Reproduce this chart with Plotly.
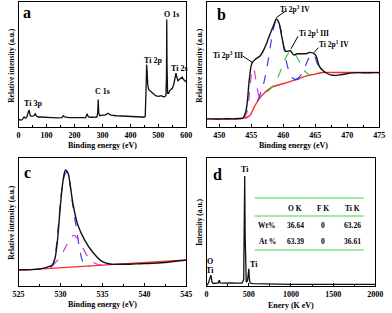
import plotly.graph_objects as go

# ---------------- Panel a : XPS survey ----------------
survey_x = [0, 5, 10, 15, 20, 25, 30, 35, 38, 42, 48, 55, 60, 63, 70, 80, 100, 120, 140, 155, 160, 165,
            180, 200, 220, 240, 245, 250, 260, 270, 280, 283, 285, 287, 290, 300, 310, 320, 330, 350, 380,
            410, 440, 450, 453, 456, 458, 460, 462, 465, 470, 480, 490, 500, 510, 520, 527, 529, 530, 531,
            533, 537, 540, 545, 550, 555, 560, 563, 566, 570, 575, 580, 585, 590, 595, 600]
survey_y = [6, 6, 5.5, 6.5, 8, 7, 8, 12, 13.5, 9, 8.5, 9, 10.5, 9, 8, 8, 7.5, 7.5, 7.3, 7.5, 9, 8,
            7.5, 7.3, 7.2, 7.5, 10.5, 8, 7.8, 7.8, 8, 11, 22, 11, 9, 9.5, 9.5, 11, 9.5, 9, 8.5,
            8.2, 8, 8, 8.5, 30, 50, 44, 34, 30, 29, 27, 25, 24.5, 25, 24, 25, 40, 86, 50,
            27, 27, 29, 30, 31, 34, 40, 43, 40, 37, 38, 39, 40, 38, 37, 36]
survey_labels = ["Ti 3p", "C 1s", "Ti 2p", "O 1s", "Ti 2s"]
survey_lab_x = [50, 300, 480, 547, 574]
survey_lab_y = [19, 28, 53, 90, 47]

# ---------------- Panel b : Ti 2p ----------------
ti_x = [448, 449, 450, 451, 452, 453, 453.7, 454.2, 454.7, 455.1, 455.7, 456.4, 457.2, 457.9, 458.6,
        458.9, 459.3, 459.8, 460.4, 461.1, 461.6, 462.2, 463.0, 463.7, 464.2, 465.0, 465.7, 466.5,
        467.7, 469.2, 470.7, 472, 473, 474, 475]
ti_y = [6.5, 6.5, 6.4, 6.6, 6.5, 6.8, 7.4, 14, 38.7, 51, 54.5, 57, 64.6, 74, 82.8,
        86.4, 83.6, 71.4, 60.5, 61, 57.8, 58.6, 58.6, 58.8, 59.7, 57.8, 48, 44,
        41.4, 42, 43.3, 43.5, 43.4, 43.5, 43.5]
bg_b_x = [448, 453, 453.7, 454.2, 454.9, 455.4, 456.2, 457, 458.2, 459.5, 461.2, 462.5, 463.7, 465, 466.2, 468, 475]
bg_b_y = [6.5, 6.5, 7, 7.4, 10, 15.5, 22.3, 27, 31.9, 34, 36.5, 39, 40.9, 42.3, 43.6, 43.6, 43.6]
p1_x = [453.8, 454.2, 454.5, 454.8, 455.0, 455.2, 455.4, 455.7, 456.0, 456.3, 456.6, 457.0]
p1_y = [7.2, 10, 17, 32, 42, 47, 46, 38, 29, 24, 24.5, 26]
p2_x = [456.0, 456.5, 457.0, 457.5, 458.0, 458.5, 459.0, 459.5, 460.0, 460.5, 461.0, 461.5, 462.0, 462.5]
p2_y = [21, 27.6, 36.3, 49.3, 65.2, 79.5, 86, 80, 66, 52, 43, 39, 38, 38.3]
p3_x = [457.5, 458.0, 458.5, 459.0, 459.5, 460.0, 460.5, 461.0, 461.3, 461.7, 462.0, 462.5, 463.0, 463.5, 464.0, 464.5, 465.0]
p3_y = [28.2, 30.5, 33.5, 38, 44, 50.5, 56.5, 60, 61, 59.5, 57, 52.5, 47.5, 44, 42, 41.5, 41.8]
p4_x = [461.8, 462.3, 462.8, 463.3, 463.8, 464.2, 464.5, 464.9, 465.3, 465.7, 466.1, 466.6]
p4_y = [37.5, 39, 42, 47, 53, 57, 58.3, 56.5, 51, 46.5, 44, 43.5]
ti_labels = ["Ti 2p<sup>3</sup> III", "Ti 2p<sup>3</sup> IV", "Ti 2p<sup>1</sup> III", "Ti 2p<sup>1</sup> IV"]
ti_lab_x = [451.3, 461.8, 464.8, 468.0]
ti_lab_y = [57.8, 94.5, 75.5, 66]

# ---------------- Panel c : O 1s ----------------
o_x = [525, 526, 527, 527.5, 528, 528.5, 529, 529.3, 529.6, 530.0, 530.3, 530.6, 530.9, 531.1, 531.5,
       532.1, 532.9, 533.8, 535, 536.1, 537, 538, 539, 540, 541, 542, 543, 544, 545]
o_y = [12.8, 12.7, 13, 13.3, 14, 15, 16.3, 20.4, 33, 63.8, 82, 90.6, 88, 81.6, 63.8,
       47, 35.7, 26.8, 19, 17, 17, 17, 17.3, 17.5, 17.8, 18.2, 18.8, 19.5, 20.2]
bg_c_x = [525, 545]
bg_c_y = [12.2, 20.4]
oa_x = [528.8, 529.1, 529.4, 529.8, 530.1, 530.4, 530.7, 531.0, 531.3, 531.6, 532.0, 532.3, 532.6, 533.0, 533.5]
oa_y = [14.5, 16.6, 25.5, 51, 72, 85, 89, 84, 71, 57, 41, 28, 20, 15.6, 15.5]
ob_x = [529.0, 529.5, 530.0, 530.5, 531.0, 531.3, 531.6, 531.9, 532.3, 532.8, 533.3, 533.8, 534.3, 535.0]
ob_y = [15.5, 19, 23, 29, 35.5, 38.5, 39.5, 38, 34, 28, 22.5, 19, 17.2, 16.3]

# ---------------- Panel d : EDS ----------------
eds_x = [0, 20, 35, 45, 52, 58, 65, 80, 100, 140, 150, 160, 200, 270, 280, 290, 350, 420, 440, 447,
         452, 457, 462, 470, 485, 495, 501, 507, 515, 550, 700, 1000, 1500, 2000]
eds_y = [0.5, 2, 5, 8, 8.5, 6, 3, 2, 2, 2.5, 4.5, 2.5, 2.2, 2.5, 3, 2.5, 2.3, 2.3, 5, 40,
         86, 40, 5, 3, 4, 11, 13.4, 6, 2.3, 1.8, 1.5, 1.3, 1.2, 1.2]
eds_labels = ["Ti", "Ti", "O", "Ti"]
eds_lab_x = [459, 560, 45, 45]
eds_lab_y = [91, 17, 19, 12]
table_cols = ["", "O K", "F K", "Ti K"]
table_rows = [["Wt%", "36.64", "0", "63.26"], ["At %", "63.39", "0", "36.61"]]

# ---------------- Figure ----------------
W, H = 392, 313
def px(v):
    return v / W
def py(v):
    return 1 - v / H

FONT = "Liberation Serif"
BLACK = "#111111"
RED = "#ff2a2a"
BLUE = "#3b3bff"
PINK = "#d040d0"
GREEN = "#2ecc2e"

fig = go.Figure()

def line(x, y, color, xa, ya, dash=None, width=1.4, shape="linear"):
    fig.add_trace(go.Scatter(x=x, y=y, mode="lines", xaxis=xa, yaxis=ya,
                             line=dict(color=color, width=width, dash=dash, shape=shape),
                             showlegend=False, hoverinfo="skip"))

# a
line(survey_x, survey_y, BLACK, "x", "y", width=1.3)
# b
line(bg_b_x, bg_b_y, RED, "x2", "y2", width=1.4, shape="spline")
line(p1_x, p1_y, PINK, "x2", "y2", dash="dash", width=1.2, shape="spline")
line(p2_x, p2_y, BLUE, "x2", "y2", dash="dash", width=1.2, shape="spline")
line(p3_x, p3_y, GREEN, "x2", "y2", dash="dash", width=1.2, shape="spline")
line(p4_x, p4_y, BLUE, "x2", "y2", dash="dash", width=1.2, shape="spline")
line(ti_x, ti_y, BLACK, "x2", "y2", width=1.4, shape="spline")
# c
line(bg_c_x, bg_c_y, RED, "x3", "y3", width=1.4)
line(oa_x, oa_y, BLUE, "x3", "y3", dash="dash", width=1.2, shape="spline")
line(ob_x, ob_y, PINK, "x3", "y3", dash="dash", width=1.2, shape="spline")
line(o_x, o_y, BLACK, "x3", "y3", width=1.4, shape="spline")
# d
line(eds_x, eds_y, BLACK, "x4", "y4", width=1.3)

tickfont = dict(family=FONT, size=8, color="black", weight="bold")

def xaxis_cfg(dom, yanchor, rng, tick0, dtick, minor):
    return dict(domain=dom, anchor=yanchor, range=rng, dtick=dtick, tick0=tick0,
                showline=True, linecolor="black", linewidth=1, mirror=True,
                ticks="inside", ticklen=3, tickcolor="black", tickfont=tickfont,
                minor=dict(ticks="inside", ticklen=2, dtick=minor, tick0=tick0, tickcolor="black"),
                showgrid=False, zeroline=False, fixedrange=True)

def yaxis_cfg(dom, xanchor):
    return dict(domain=dom, anchor=xanchor, range=[0, 100], showticklabels=False, ticks="",
                showline=True, linecolor="black", linewidth=1, mirror=True,
                showgrid=False, zeroline=False, fixedrange=True)

top_y = [py(127), py(2)]
bot_y = [py(286), py(158)]
fig.update_layout(
    width=W, height=H, margin=dict(l=0, r=0, t=0, b=0),
    paper_bgcolor="white", plot_bgcolor="white",
    xaxis=xaxis_cfg([px(13), px(187)], "y", [0, 600], 0, 100, 50),
    yaxis=yaxis_cfg(top_y, "x"),
    xaxis2=xaxis_cfg([px(208), px(387)], "y2", [448, 475], 450, 5, 2.5),
    yaxis2=yaxis_cfg(top_y, "x2"),
    xaxis3=xaxis_cfg([px(13), px(187)], "y3", [525, 545], 525, 5, 2.5),
    yaxis3=yaxis_cfg(bot_y, "x3"),
    xaxis4=xaxis_cfg([px(208), px(383)], "y4", [0, 2000], 0, 500, 250),
    yaxis4=yaxis_cfg(bot_y, "x4"),
)

ann = []
def text(x, y, s, size=8.5, xref="paper", yref="paper", angle=0, xanchor="center", yanchor="middle"):
    ann.append(dict(x=x, y=y, xref=xref, yref=yref, text="<b>" + s + "</b>", showarrow=False,
                    textangle=angle, xanchor=xanchor, yanchor=yanchor,
                    font=dict(family=FONT, size=size, color="black")))

# panel letters
text(px(22), py(13), "a", size=16)
text(px(223), py(14), "b", size=16)
text(px(22), py(172), "c", size=16)
text(px(219), py(174), "d", size=16)

# axis titles
text(px(100), py(145), "Binding energy (eV)", size=8)
text(px(298), py(145), "Binding energy (eV)", size=8)
text(px(100), py(304), "Binding energy (eV)", size=8)
text(px(296), py(305), "Enery (K eV)", size=8)
text(px(5), py(65), "Relative intensity (a.u.)", size=7.5, angle=-90)
text(px(200), py(65), "Relative intensity (a.u.)", size=7.5, angle=-90)
text(px(5), py(222), "Relative intensity (a.u.)", size=7.5, angle=-90)
text(px(200), py(222), "Intensity (a.u.)", size=7.5, angle=-90)

# peak labels a
for s, x, y in zip(survey_labels, survey_lab_x, survey_lab_y):
    text(x, y, s, size=8, xref="x", yref="y")
# peak labels b
for s, x, y in zip(ti_labels, ti_lab_x, ti_lab_y):
    text(x, y, s, size=7.5, xref="x2", yref="y2")
# leader lines in b
leaders = [(453.6, 57, 455.2, 51.5), (460.3, 92.5, 458.9, 87.5), (462.3, 72.5, 461.2, 62.5), (465.5, 63.5, 464.8, 59.5)]
shapes = []
for x0, y0, x1, y1 in leaders:
    shapes.append(dict(type="line", xref="x2", yref="y2", x0=x0, y0=y0, x1=x1, y1=y1,
                       line=dict(color="black", width=1)))
# labels d
for s, x, y in zip(eds_labels, eds_lab_x, eds_lab_y):
    text(x, y, s, size=8, xref="x4", yref="y4")

# table in d
col_x = [271, 300, 329, 359]
for cx, s in zip(col_x, table_cols):
    if s:
        text(px(cx), py(208), s, size=7.5)
for ry, row in zip([225, 241], table_rows):
    for cx, s in zip(col_x, row):
        text(px(cx), py(ry), s, size=7.5)
for ly in [198, 216, 250]:
    shapes.append(dict(type="line", xref="paper", yref="paper", x0=px(258), x1=px(371), y0=py(ly), y1=py(ly),
                       line=dict(color="#44d444", width=1.2)))

fig.update_layout(annotations=ann, shapes=shapes)
fig.write_html("out.html", config={"displayModeBar": False},
               post_script="document.body.style.margin='0';document.body.style.padding='0';")
